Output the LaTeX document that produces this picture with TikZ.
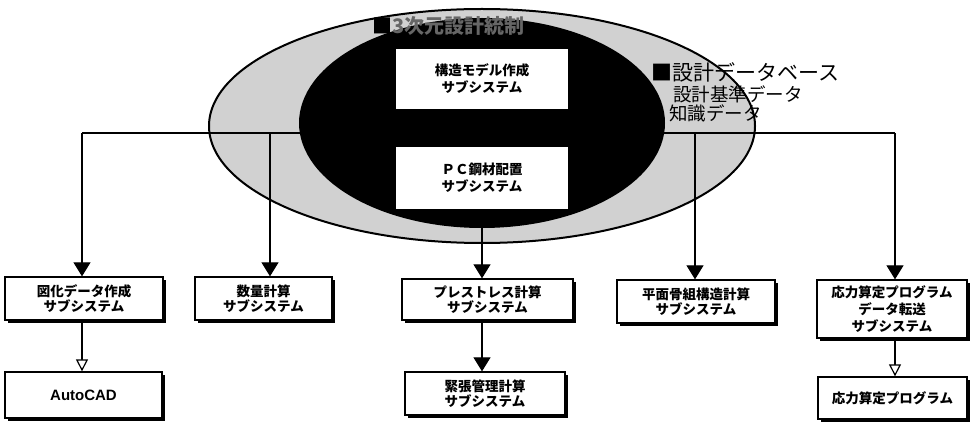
\documentclass[tikz,border=0pt]{standalone}
\usepackage{fontspec}
\setmainfont{Liberation Sans}
\newfontfamily\jp{Noto Sans CJK JP}
\usetikzlibrary{arrows.meta,shadows}
\begin{document}
\begin{tikzpicture}[x=1pt,y=-1pt,
  sysbox/.style={draw, line width=1.3pt, fill=white, align=center, inner sep=0pt,
    font=\jp\bfseries\fontsize{13.5}{15.5}\selectfont,
    drop shadow={shadow xshift=2.5pt, shadow yshift=-2.5pt, opacity=1, fill=black}},
  innerbox/.style={fill=white, align=center, inner sep=0pt,
    font=\jp\bfseries\fontsize{13.5}{17}\selectfont},
  conn/.style={line width=1.2pt},
  fillarrow/.style={conn, -{Triangle[length=14pt,width=17pt]}},
  openarrow/.style={conn, -{Triangle[open,length=12pt,width=12pt,fill=white]}},
  dbtext/.style={anchor=west, inner sep=0pt, font=\jp\fontsize{18.5}{20}\selectfont}
]
\useasboundingbox (0,0) rectangle (971,422);
\fill[white] (0,0) rectangle (971,422);

% ellipses
\filldraw[fill=black!18, draw=black, line width=2pt] (482,126) ellipse [x radius=273, y radius=117];
\fill[black] (482,123) ellipse [x radius=183, y radius=105];

% top label
\node[anchor=west, inner sep=0pt, font=\jp\bfseries\fontsize{20}{22}\selectfont, text=black!60] (toplabel) at (372,26) {\textcolor{black}{■}3次元設計統制};

% inner boxes
\node[innerbox, minimum width=172pt, minimum height=60pt] (model) at (482,79) {構造モデル作成\\サブシステム};
\node[innerbox, minimum width=172pt, minimum height=62pt] (pc) at (482,178) {ＰＣ鋼材配置\\サブシステム};

% database label
\node[dbtext, font=\jp\fontsize{21}{22}\selectfont] (db) at (651,72) {■設計データベース};
\node[dbtext] (db1) at (673,94) {設計基準データ};
\node[dbtext] (db2) at (669,113) {知識データ};

% bottom boxes
\node[sysbox, minimum width=158pt, minimum height=43pt] (A) at (84,298.5) {図化データ作成\\サブシステム};
\node[sysbox, minimum width=137pt, minimum height=43pt] (B) at (263.5,298.5) {数量計算\\サブシステム};
\node[sysbox, minimum width=157pt, minimum height=46pt, font=\bfseries\fontsize{15}{18}\selectfont] (AC) at (83.5,395) {AutoCAD};
\node[sysbox, minimum width=171pt, minimum height=41pt] (C) at (487.5,299.5) {プレストレス計算\\サブシステム};
\node[sysbox, minimum width=160pt, minimum height=43pt] (D) at (485,393.5) {緊張管理計算\\サブシステム};
\node[sysbox, minimum width=158pt, minimum height=43pt] (E) at (696,301.5) {平面骨組構造計算\\サブシステム};
\node[sysbox, minimum width=150pt, minimum height=58pt, font=\jp\bfseries\fontsize{13.5}{17}\selectfont] (F) at (892,309) {応力算定プログラム\\データ転送\\サブシステム};
\node[sysbox, minimum width=149pt, minimum height=42pt] (G) at (892.5,398) {応力算定プログラム};

% bus
\coordinate (bl) at (82,133);
\coordinate (b2) at (270,133);
\coordinate (b4) at (695,133);
\coordinate (br) at (895,133);
\draw[conn] (bl) -- (br);

\draw[fillarrow] (bl) -- (bl |- A.north);
\draw[fillarrow] (b2) -- (b2 |- B.north);
\draw[fillarrow] (pc.south) -- (pc.south |- C.north);
\draw[fillarrow] (b4) -- (b4 |- E.north);
\draw[fillarrow] (br) -- (br |- F.north);

\draw[openarrow] (bl |- A.south) -- (bl |- AC.north);
\draw[fillarrow] (pc.south |- C.south) -- (pc.south |- D.north);
\draw[openarrow] (br |- F.south) -- (br |- G.north);
\end{tikzpicture}
\end{document}
